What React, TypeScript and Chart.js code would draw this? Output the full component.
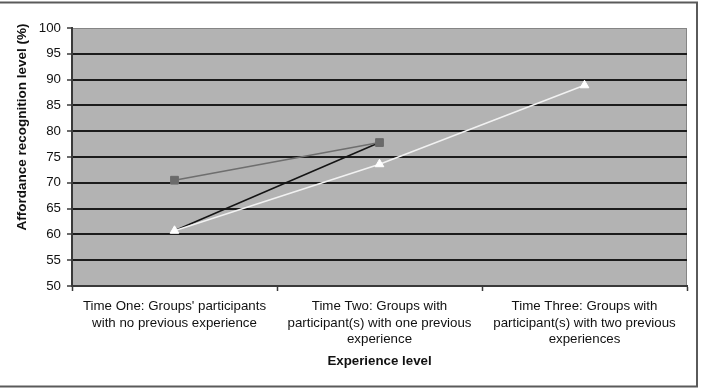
import React, { useEffect, useRef } from "react";
import { Chart, registerables } from "chart.js";

Chart.register(...registerables);

// Experience levels on the horizontal axis (multi-line labels)
const categories: string[][] = [
  ["Time One: Groups' participants", "with no previous experience"],
  ["Time Two: Groups with", "participant(s) with one previous", "experience"],
  ["Time Three: Groups with", "participant(s) with two previous", "experiences"],
];

// Affordance recognition level (%) per group
const seriesOne: (number | null)[] = [60.7, 77.8, null];
const seriesTwo: (number | null)[] = [70.5, 77.8, null];
const seriesThree: (number | null)[] = [60.7, 73.6, 88.9];

const yMin = 50;
const yMax = 100;
const yStep = 5;

const yTitle = "Affordance recognition level (%)";

const FONT = "'Liberation Sans', Arial, Helvetica, sans-serif";

// Frame around the whole chart plus the grey plot-area fill
const backdrop = {
  id: "backdrop",
  beforeDraw(chart: Chart) {
    const { ctx, chartArea: a } = chart;
    ctx.save();
    ctx.fillStyle = "#ffffff";
    ctx.fillRect(0, 0, chart.width, chart.height);
    ctx.strokeStyle = "#5a5a5a";
    ctx.lineWidth = 2;
    ctx.strokeRect(-4, 2.5, 701, 384);
    ctx.fillStyle = "#b3b3b3";
    ctx.fillRect(a.left, a.top, a.right - a.left, a.bottom - a.top);
    ctx.strokeStyle = "#858585";
    ctx.lineWidth = 1;
    ctx.strokeRect(a.left, a.top + 0.5, a.right - a.left - 0.5, a.bottom - a.top);
    ctx.restore();
  },
};

// Vertical axis title, set in the left margin
const valueAxisTitle = {
  id: "valueAxisTitle",
  afterDraw(chart: Chart) {
    const { ctx } = chart;
    ctx.save();
    ctx.translate(22, 127);
    ctx.rotate(-Math.PI / 2);
    ctx.font = `bold 13.5px ${FONT}`;
    ctx.fillStyle = "#111111";
    ctx.textAlign = "center";
    ctx.textBaseline = "middle";
    ctx.fillText(yTitle, 0, 0);
    ctx.restore();
  },
};

export default function App() {
  const canvasRef = useRef<HTMLCanvasElement | null>(null);

  useEffect(() => {
    if (!canvasRef.current) return;
    const chart = new Chart(canvasRef.current, {
      type: "line",
      data: {
        labels: categories,
        datasets: [
          {
            label: "Series 3",
            data: seriesThree,
            borderColor: "#f2f2f2",
            backgroundColor: "#ffffff",
            borderWidth: 1.5,
            pointStyle: "triangle",
            pointRadius: 5,
            pointBorderWidth: 1,
            pointBorderColor: "#ffffff",
            tension: 0,
          },
          {
            label: "Series 2",
            data: seriesTwo,
            borderColor: "#6e6e6e",
            backgroundColor: "#6a6a6a",
            borderWidth: 1.5,
            pointStyle: "rect",
            pointRadius: 5.5,
            pointBorderWidth: 1,
            pointBorderColor: "#6a6a6a",
            tension: 0,
          },
          {
            label: "Series 1",
            data: seriesOne,
            borderColor: "#141414",
            backgroundColor: "#141414",
            borderWidth: 1.5,
            pointRadius: 0,
            tension: 0,
          },
        ],
      },
      options: {
        responsive: false,
        animation: false,
        devicePixelRatio: 1,
        layout: { padding: { left: 0, top: 28, right: 15, bottom: 0 } },
        plugins: {
          legend: { display: false },
          tooltip: { enabled: false },
          title: { display: false },
        },
        scales: {
          x: {
            type: "category",
            offset: true,
            afterFit: (s: any) => {
              s.height = 102;
            },
            grid: {
              offset: true,
              drawOnChartArea: false,
              drawTicks: true,
              tickLength: 5,
              tickColor: "#3a3a3a",
              tickWidth: 1.5,
              color: "#3a3a3a",
            },
            border: { display: true, color: "#3a3a3a", width: 2 },
            ticks: {
              autoSkip: false,
              maxRotation: 0,
              minRotation: 0,
              padding: 7,
              color: "#111111",
              font: { family: FONT, size: 13.3, lineHeight: 1.25 },
            },
            title: {
              display: true,
              text: "Experience level",
              color: "#111111",
              font: { family: FONT, size: 13.3, weight: "bold", lineHeight: 1.2 },
              padding: { top: 0, bottom: 19 },
            },
          },
          y: {
            min: yMin,
            max: yMax,
            afterFit: (s: any) => {
              s.width = 72;
            },
            ticks: {
              stepSize: yStep,
              padding: 6,
              color: "#111111",
              font: { family: FONT, size: 13.3 },
            },
            grid: {
              color: (c: any) =>
                c.tick && (c.tick.value === yMax || c.tick.value === yMin)
                  ? "rgba(0,0,0,0)"
                  : "#1c1c1c",
              lineWidth: 2,
              drawTicks: true,
              tickLength: 5,
              tickColor: "#3a3a3a",
              tickWidth: 1.5,
            },
            border: { display: true, color: "#3a3a3a", width: 2 },
            title: { display: false },
          },
        },
      },
      plugins: [backdrop, valueAxisTitle],
    });
    return () => chart.destroy();
  }, []);

  return (
    <div style={{ position: "fixed", left: 0, top: 0, width: 702, height: 388 }}>
      <canvas ref={canvasRef} width={702} height={388} />
    </div>
  );
}
